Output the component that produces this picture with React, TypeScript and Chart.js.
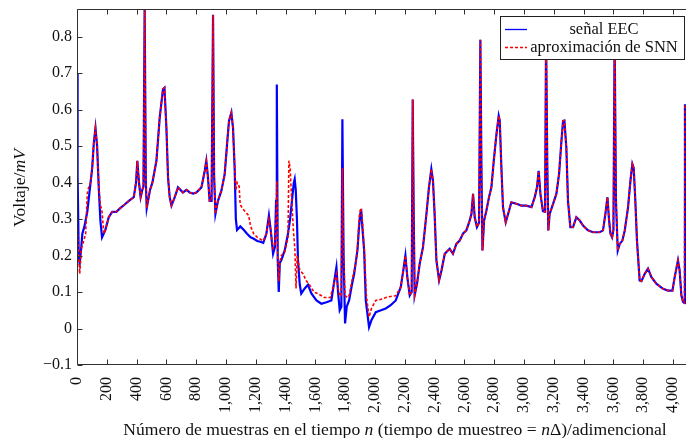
import React, { useEffect, useRef } from 'react';
import { Chart, registerables } from 'chart.js';

Chart.register(...registerables);

// ---------- data (sample index n, voltage in mV) ----------
const eecStart: [number, number][] = [
  [0, 0.70], [4, 0.42], [12, 0.19], [18, 0.178], [28, 0.22], [36, 0.26], [50, 0.28], [69, 0.32],
  [91, 0.40], [102, 0.44], [113, 0.51], [124, 0.55], [135, 0.50], [146, 0.387], [157, 0.296],
  [168, 0.25], [190, 0.27],
];
const snnStart: [number, number][] = [
  [0, 0.30], [8, 0.22], [18, 0.15], [30, 0.22], [45, 0.24], [58, 0.26], [69, 0.37], [80, 0.39],
  [91, 0.40], [102, 0.44], [113, 0.51], [124, 0.55], [135, 0.50], [146, 0.39], [157, 0.34],
  [168, 0.32], [180, 0.26], [190, 0.27],
];
// segment where both curves coincide
const sharedA: [number, number][] = [
  [213, 0.305], [236, 0.32], [264, 0.32], [290, 0.33], [320, 0.34], [348, 0.35], [381, 0.36],
  [396, 0.40], [405, 0.46], [416, 0.40], [427, 0.36], [438, 0.38], [446, 0.39], [454, 0.876],
  [462, 0.40], [468, 0.33], [490, 0.38], [506, 0.40], [533, 0.46], [555, 0.578], [577, 0.656],
  [587, 0.66], [600, 0.55], [611, 0.414], [622, 0.36], [634, 0.337], [656, 0.36], [678, 0.387],
  [711, 0.373], [735, 0.38], [756, 0.373], [780, 0.37], [801, 0.373], [835, 0.387], [857, 0.432],
  [868, 0.46], [879, 0.414], [890, 0.35], [903, 0.35], [913, 0.86], [920, 0.42], [929, 0.314],
  [946, 0.35], [969, 0.378], [991, 0.423], [1007, 0.505], [1020, 0.569], [1036, 0.592],
  [1047, 0.55], [1058, 0.44],
];
const eecMid: [number, number][] = [
  [1066, 0.30], [1074, 0.27], [1096, 0.28], [1120, 0.27], [1141, 0.26], [1165, 0.25], [1186, 0.246],
  [1210, 0.24], [1230, 0.238], [1250, 0.235], [1271, 0.26], [1288, 0.31], [1300, 0.27], [1316, 0.205],
  [1328, 0.223], [1336, 0.35], [1341, 0.669], [1347, 0.19], [1354, 0.10], [1361, 0.18], [1371, 0.187],
  [1394, 0.214], [1416, 0.26], [1430, 0.30], [1445, 0.36], [1455, 0.40], [1461, 0.41], [1468, 0.38],
  [1476, 0.30], [1483, 0.187], [1495, 0.12], [1505, 0.096], [1528, 0.11], [1550, 0.12], [1573, 0.096],
  [1607, 0.077], [1640, 0.068], [1674, 0.072], [1707, 0.077], [1723, 0.12], [1741, 0.168],
  [1752, 0.10], [1763, 0.05], [1774, 0.06], [1781, 0.574], [1789, 0.2], [1799, 0.014], [1810, 0.06],
  [1826, 0.077], [1845, 0.12], [1860, 0.15], [1882, 0.214], [1893, 0.28], [1900, 0.314],
  [1908, 0.32], [1915, 0.278], [1927, 0.214], [1938, 0.077], [1960, 0.004], [1976, 0.023],
  [2005, 0.045], [2040, 0.05], [2072, 0.055], [2105, 0.064], [2139, 0.077], [2173, 0.114],
];
const snnMid: [number, number][] = [
  [1066, 0.38], [1075, 0.40], [1088, 0.39], [1095, 0.34], [1110, 0.33], [1130, 0.32], [1152, 0.31],
  [1165, 0.28], [1186, 0.26], [1210, 0.25], [1230, 0.245], [1250, 0.24], [1271, 0.26], [1288, 0.30],
  [1300, 0.27], [1316, 0.22], [1328, 0.23], [1336, 0.30], [1341, 0.405], [1347, 0.20], [1354, 0.13],
  [1361, 0.18], [1371, 0.20], [1394, 0.21], [1416, 0.25], [1422, 0.46], [1430, 0.44], [1440, 0.36],
  [1452, 0.27], [1462, 0.22], [1470, 0.11], [1478, 0.20], [1495, 0.16], [1516, 0.15], [1540, 0.13],
  [1560, 0.12], [1590, 0.10], [1620, 0.095], [1660, 0.085], [1700, 0.085], [1723, 0.12],
  [1741, 0.15], [1752, 0.11], [1763, 0.09], [1774, 0.09], [1781, 0.44], [1789, 0.2], [1799, 0.09],
  [1815, 0.085], [1826, 0.09], [1845, 0.13], [1871, 0.178], [1882, 0.22], [1893, 0.30],
  [1902, 0.33], [1910, 0.32], [1918, 0.28], [1930, 0.2], [1942, 0.09], [1960, 0.032], [1976, 0.055],
  [2005, 0.077], [2040, 0.08], [2072, 0.085], [2105, 0.088], [2139, 0.09], [2173, 0.114],
];
const sharedB: [number, number][] = [
  [2190, 0.16], [2204, 0.20], [2217, 0.14], [2233, 0.091], [2246, 0.10], [2253, 0.628], [2260, 0.3],
  [2266, 0.091], [2282, 0.123], [2300, 0.178], [2322, 0.223], [2345, 0.314], [2362, 0.387],
  [2378, 0.437], [2389, 0.405], [2400, 0.314], [2412, 0.187], [2430, 0.132], [2446, 0.159],
  [2468, 0.205], [2501, 0.219], [2523, 0.205], [2546, 0.232], [2568, 0.241], [2590, 0.26],
  [2613, 0.269], [2635, 0.296], [2647, 0.314], [2658, 0.369], [2669, 0.305], [2684, 0.278],
  [2698, 0.29], [2707, 0.792], [2714, 0.45], [2721, 0.214], [2732, 0.296], [2747, 0.322],
  [2765, 0.36], [2781, 0.387], [2797, 0.46], [2815, 0.533], [2830, 0.583], [2837, 0.57],
  [2848, 0.442], [2859, 0.332], [2877, 0.291], [2893, 0.314], [2915, 0.346], [2949, 0.342],
  [2982, 0.337], [3016, 0.337], [3050, 0.333], [3072, 0.36], [3087, 0.387], [3098, 0.432],
  [3110, 0.369], [3127, 0.322], [3141, 0.32], [3148, 0.80], [3156, 0.45], [3163, 0.269],
  [3172, 0.314], [3195, 0.342], [3217, 0.369], [3235, 0.423], [3251, 0.514], [3262, 0.569],
  [3271, 0.57], [3284, 0.496], [3295, 0.35], [3311, 0.278], [3329, 0.278], [3351, 0.305],
  [3374, 0.296], [3396, 0.282], [3429, 0.269], [3463, 0.264], [3508, 0.264], [3530, 0.269],
  [3546, 0.314], [3560, 0.36], [3570, 0.30], [3580, 0.26], [3591, 0.25], [3600, 0.27], [3608, 0.80],
  [3617, 0.35], [3629, 0.214], [3642, 0.232], [3660, 0.241], [3676, 0.269], [3698, 0.332],
  [3714, 0.405], [3727, 0.451], [3736, 0.44], [3747, 0.35], [3758, 0.241], [3776, 0.132],
  [3788, 0.13], [3810, 0.15], [3832, 0.164], [3855, 0.141], [3888, 0.123], [3933, 0.109],
  [3966, 0.104], [3996, 0.104], [4011, 0.141], [4033, 0.187], [4044, 0.16], [4056, 0.091],
  [4067, 0.073], [4076, 0.07], [4080, 0.615],
];

const eecSignal = [...eecStart, ...sharedA, ...eecMid, ...sharedB];
const snnApprox = [...snnStart, ...sharedA, ...snnMid, ...sharedB];

const xTickValues = [0, 200, 400, 600, 800, 1000, 1200, 1400, 1600, 1800, 2000, 2200, 2400, 2600, 2800, 3000, 3200, 3400, 3600, 3800, 4000];
const yTickValues = [-0.1, 0, 0.1, 0.2, 0.3, 0.4, 0.5, 0.6, 0.7, 0.8];

const seriesLabels = ['señal EEC', 'aproximación de SNN'];

const X_MIN = 0;
const X_MAX = 4087;
const Y_MIN = -0.1;
const Y_MAX = 0.876;

const FONT_FAMILY = '"Liberation Serif", "DejaVu Serif", serif';
const FS_TICK = 16;
const FS_LEGEND = 16.5;
const FS_TITLE = 17.6;

const fmtX = (v: number) => v.toLocaleString('en-US');
const fmtY = (v: number) => {
  if (Math.abs(v) < 1e-9) return '0';
  return (v < 0 ? '\u2212' : '') + Math.abs(v).toFixed(1);
};

type Part = { t: string; i?: boolean };
function drawRich(ctx: CanvasRenderingContext2D, parts: Part[], cx: number, cy: number, size: number) {
  const fontFor = (p: Part) => `${p.i ? 'italic ' : ''}${size}px ${FONT_FAMILY}`;
  let total = 0;
  for (const p of parts) {
    ctx.font = fontFor(p);
    total += ctx.measureText(p.t).width;
  }
  let x = cx - total / 2;
  ctx.textAlign = 'left';
  ctx.textBaseline = 'middle';
  for (const p of parts) {
    ctx.font = fontFor(p);
    ctx.fillText(p.t, x, cy);
    x += ctx.measureText(p.t).width;
  }
}

const framePlugin = {
  id: 'pgfFrame',
  afterDatasetsDraw(chart: any) {
    const { ctx, chartArea: a, scales } = chart;
    ctx.save();
    ctx.strokeStyle = '#303030';
    ctx.lineWidth = 1;
    const L = Math.round(a.left) + 0.5;
    const T = Math.round(a.top) + 0.5;
    const B = Math.round(a.bottom) - 0.5;
    const R = Math.round(a.right) + 0.5;
    ctx.beginPath();
    ctx.moveTo(R, T);
    ctx.lineTo(L, T);
    ctx.lineTo(L, B);
    ctx.lineTo(R, B);
    ctx.stroke();
    const tl = 5;
    ctx.beginPath();
    for (const v of xTickValues) {
      const x = Math.round(scales.x.getPixelForValue(v)) + 0.5;
      ctx.moveTo(x, B);
      ctx.lineTo(x, B - tl);
      ctx.moveTo(x, T);
      ctx.lineTo(x, T + tl);
    }
    for (const v of yTickValues) {
      const y = Math.round(scales.y.getPixelForValue(v)) + 0.5;
      ctx.moveTo(L, y);
      ctx.lineTo(L + tl, y);
    }
    ctx.stroke();

    // legend
    const lx = 500.5, ly = 16.5, lw = 184, lh = 43;
    ctx.fillStyle = '#ffffff';
    ctx.fillRect(lx, ly, lw, lh);
    ctx.strokeStyle = '#202020';
    ctx.strokeRect(lx, ly, lw, lh);
    const rows = [29.5, 47.5];
    ctx.lineWidth = 1.3;
    ctx.strokeStyle = '#0000ff';
    ctx.setLineDash([]);
    ctx.beginPath();
    ctx.moveTo(505, rows[0]);
    ctx.lineTo(527, rows[0]);
    ctx.stroke();
    ctx.strokeStyle = '#ff0000';
    ctx.setLineDash([3, 2]);
    ctx.beginPath();
    ctx.moveTo(505, rows[1]);
    ctx.lineTo(527, rows[1]);
    ctx.stroke();
    ctx.setLineDash([]);
    ctx.fillStyle = '#111111';
    ctx.font = `${FS_LEGEND}px ${FONT_FAMILY}`;
    ctx.textAlign = 'center';
    ctx.textBaseline = 'middle';
    ctx.fillText(seriesLabels[0], 604, rows[0]);
    ctx.fillText(seriesLabels[1], 604, rows[1]);

    // axis titles
    ctx.fillStyle = '#111111';
    drawRich(ctx, [
      { t: 'Número de muestras en el tiempo ' },
      { t: 'n', i: true },
      { t: ' (tiempo de muestreo = ' },
      { t: 'n', i: true },
      { t: 'Δ)/adimencional' },
    ], 395, 430, FS_TITLE);
    ctx.save();
    ctx.translate(20, 188);
    ctx.rotate(-Math.PI / 2);
    drawRich(ctx, [{ t: 'Voltaje/' }, { t: 'mV', i: true }], 0, 0, FS_TITLE);
    ctx.restore();

    ctx.restore();
  },
};

export default function App() {
  const ref = useRef<HTMLCanvasElement | null>(null);
  useEffect(() => {
    if (!ref.current) return;
    const chart = new Chart(ref.current, {
      type: 'line',
      data: {
        datasets: [
          {
            label: seriesLabels[0],
            data: eecSignal.map(([x, y]) => ({ x, y })),
            borderColor: '#0000ff',
            borderWidth: 2.2,
            pointRadius: 0,
            tension: 0,
            fill: false,
            order: 2,
          },
          {
            label: seriesLabels[1],
            data: snnApprox.map(([x, y]) => ({ x, y })),
            borderColor: '#ff0000',
            borderWidth: 1.6,
            borderDash: [3, 2],
            pointRadius: 0,
            tension: 0,
            fill: false,
            order: 1,
          },
        ],
      },
      options: {
        animation: false,
        responsive: false,
        maintainAspectRatio: false,
        layout: { padding: { top: 9, right: 0, bottom: 0, left: 0 } },
        plugins: { legend: { display: false }, tooltip: { enabled: false } },
        scales: {
          x: {
            type: 'linear',
            min: X_MIN,
            max: X_MAX,
            grid: { display: false, drawTicks: false },
            border: { display: false },
            afterBuildTicks: (s: any) => {
              s.ticks = xTickValues.map((value) => ({ value }));
            },
            afterFit: (s: any) => {
              s.height = 73;
              s.paddingLeft = 0;
              s.paddingRight = 0;
            },
            ticks: {
              autoSkip: false,
              maxRotation: 90,
              minRotation: 90,
              padding: 12,
              color: '#111111',
              font: { family: FONT_FAMILY, size: FS_TICK },
              callback: (v: any) => fmtX(Number(v)),
            },
          },
          y: {
            type: 'linear',
            min: Y_MIN,
            max: Y_MAX,
            grid: { display: false, drawTicks: false },
            border: { display: false },
            afterBuildTicks: (s: any) => {
              s.ticks = yTickValues.map((value) => ({ value }));
            },
            afterFit: (s: any) => {
              s.width = 77;
              s.paddingTop = 0;
              s.paddingBottom = 0;
            },
            ticks: {
              autoSkip: false,
              padding: 5,
              color: '#111111',
              font: { family: FONT_FAMILY, size: FS_TICK },
              callback: (v: any) => fmtY(Number(v)),
            },
          },
        },
      },
      plugins: [framePlugin],
    });
    return () => chart.destroy();
  }, []);
  return (
    <div style={{ position: 'absolute', left: 0, top: 0, width: 686, height: 438, background: '#fff' }}>
      <canvas ref={ref} width={686} height={438} style={{ display: 'block' }} />
    </div>
  );
}
